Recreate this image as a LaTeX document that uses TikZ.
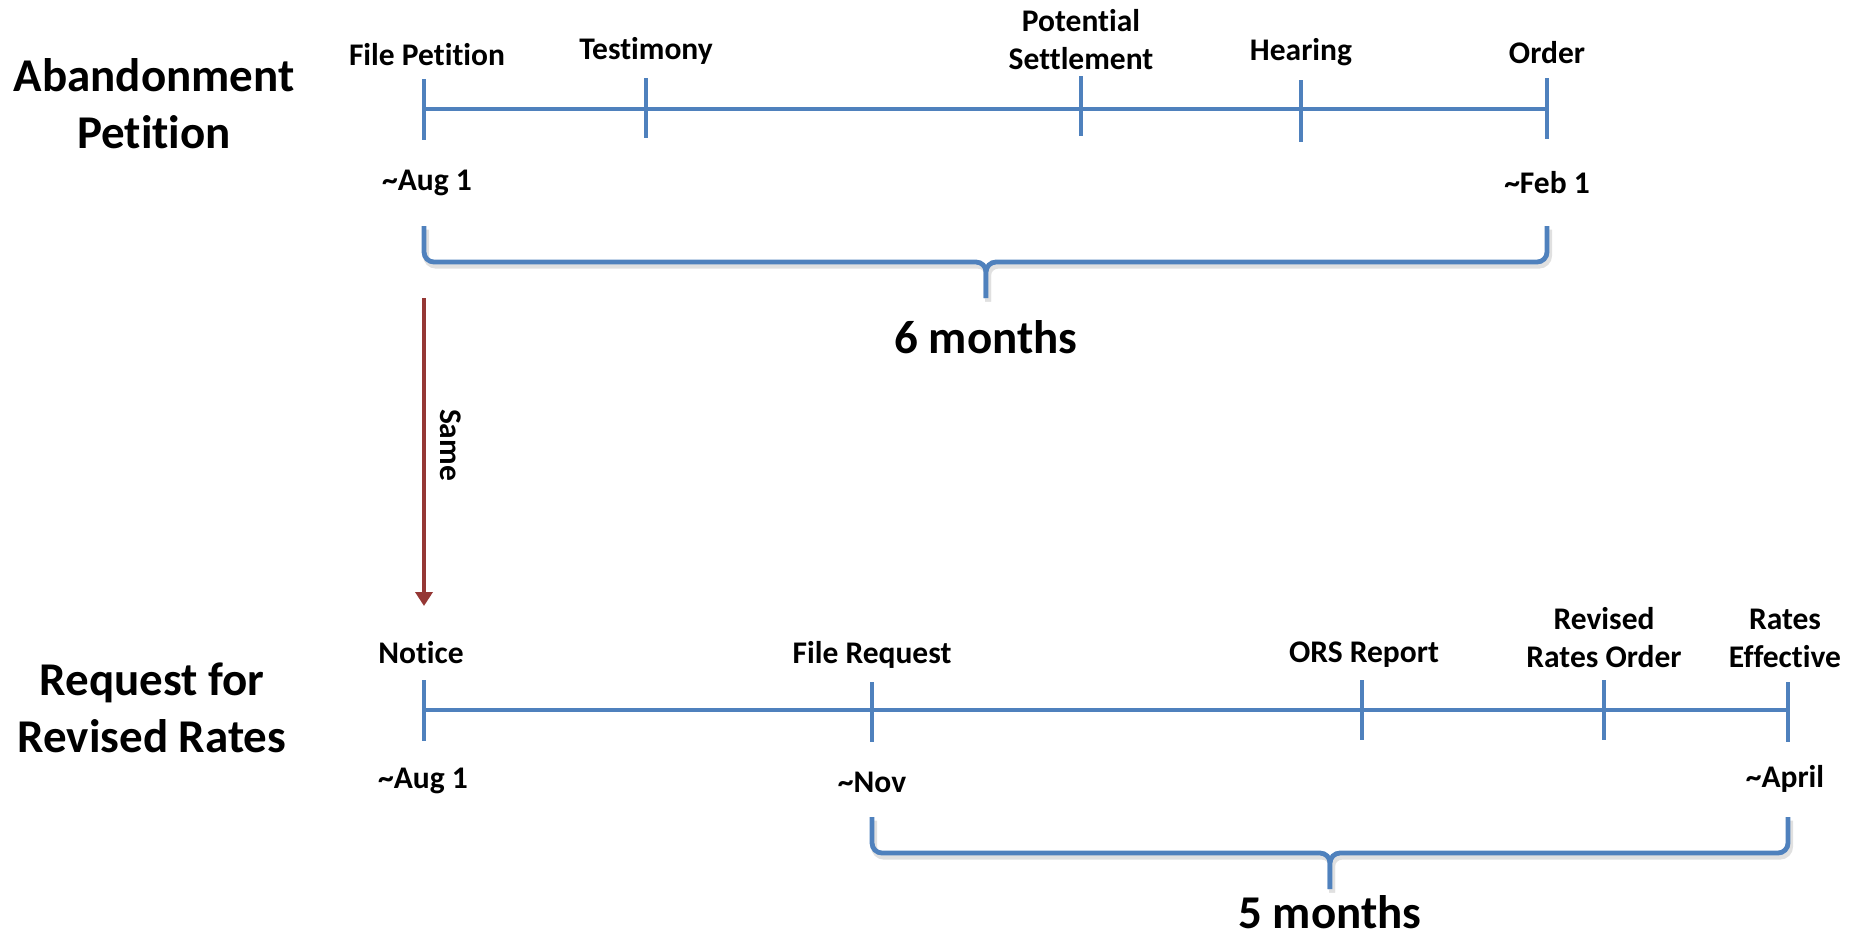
\documentclass[tikz,border=0pt]{standalone}
\usepackage{fontspec}
\setmainfont{Carlito}[Ligatures=NoCommon]
\usetikzlibrary{arrows.meta,positioning}
\definecolor{lineblue}{HTML}{4F81BD}
\definecolor{samered}{HTML}{953735}

\begin{document}
\begin{tikzpicture}[x=0.5pt, y=-0.5pt,
    tline/.style={draw=lineblue, line width=2.4pt},
    tick/.style={draw=lineblue, line width=2.4pt},
    brace/.style={draw=lineblue, line width=2.4pt, rounded corners=5pt,
      preaction={draw=black!12, line width=3pt, transform canvas={shift={(1pt,-1.8pt)}}}},
    evt/.style={font=\bfseries\fontsize{15.75}{19}\selectfont, align=center, inner sep=0pt},
    heading/.style={font=\bfseries\fontsize{23.5}{28.5}\selectfont, align=center, inner sep=0pt},
    samearrow/.style={draw=samered, line width=1.8pt, -{Triangle[length=7pt, width=8.5pt]}}
  ]
    \useasboundingbox (0,0) rectangle (1856,944);

    % abandonment petition
    \node[heading] (abTitle) at (154,104) {Abandonment\\Petition};
    \coordinate (a1) at (424,109);
    \coordinate (a2) at (646,109);
    \coordinate (a3) at (1081,109);
    \coordinate (a4) at (1301,109);
    \coordinate (a5) at (1547,109);
    \draw[tline] (a1) -- (a5);
    \draw[tick] ([yshift=15pt]a1) -- ([yshift=-15.5pt]a1);
    \draw[tick] ([yshift=15.5pt]a2) -- ([yshift=-14.5pt]a2);
    \draw[tick] ([yshift=16.5pt]a3) -- ([yshift=-13.5pt]a3);
    \draw[tick] ([yshift=14.5pt]a4) -- ([yshift=-16.5pt]a4);
    \draw[tick] ([yshift=15.5pt]a5) -- ([yshift=-15pt]a5);
    \node[evt] (fileP) at (427,55) {File Petition};
    \node[evt] (testim) at (646,51) {Testimony};
    \node[evt] (settle) at (1081,40) {Potential\\Settlement};
    \node[evt] (hear) at (1301,52) {Hearing};
    \node[evt] (ordr) at (1547,53) {Order};
    \node[evt] (augA) at (427,183) {\textasciitilde Aug 1};
    \node[evt] (febA) at (1547,183) {\textasciitilde Feb 1};
    \draw[brace] (424,226) |- (986,262) -- (986,298);
    \draw[brace] (1547,226) |- (986,262) -- (986,298);
    \node[heading] (sixM) at (986,337) {6 months};

    % link between the two
    \coordinate (sTop) at (424,298);
    \coordinate (sEnd) at (424,606);
    \draw[samearrow] (sTop) -- (sEnd);
    \node[evt, rotate=-90] (same) at (451,445) {Same};

    % request for revised rates
    \node[heading] (rrTitle) at (152,708) {Request for\\Revised Rates};
    \coordinate (r1) at (424,710);
    \coordinate (r2) at (872,710);
    \coordinate (r3) at (1362,710);
    \coordinate (r4) at (1604,710);
    \coordinate (r5) at (1788,710);
    \draw[tline] (r1) -- (r5);
    \draw[tick] ([yshift=15pt]r1) -- ([yshift=-15.5pt]r1);
    \draw[tick] ([yshift=14pt]r2) -- ([yshift=-16pt]r2);
    \draw[tick] ([yshift=15pt]r3) -- ([yshift=-15pt]r3);
    \draw[tick] ([yshift=15pt]r4) -- ([yshift=-15pt]r4);
    \draw[tick] ([yshift=14pt]r5) -- ([yshift=-16pt]r5);
    \node[evt] (notice) at (421,653) {Notice};
    \node[evt] (fileR) at (872,655) {File Request};
    \node[evt] (ors) at (1364,655) {ORS Report};
    \node[evt] (revOrd) at (1604,638) {Revised\\Rates Order};
    \node[evt] (rateEff) at (1785,638) {Rates\\Effective};
    \node[evt] (augR) at (423,781) {\textasciitilde Aug 1};
    \node[evt] (novR) at (872,782) {\textasciitilde Nov};
    \node[evt] (aprR) at (1785,779) {\textasciitilde April};
    \draw[brace] (872,817) |- (1330,853) -- (1330,889);
    \draw[brace] (1788,817) |- (1330,853) -- (1330,889);
    \node[heading] (fiveM) at (1330,912) {5 months};
  \end{tikzpicture}
\end{document}
